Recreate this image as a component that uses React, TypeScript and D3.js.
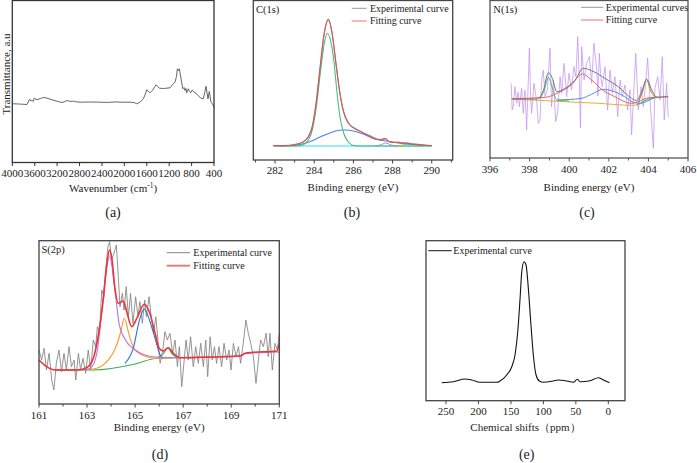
import React from 'react';
import * as d3 from 'd3';

type Pt = [number, number];

// ---------- (a) FTIR ----------
const ftirTicks = [4000, 3600, 3200, 2800, 2400, 2000, 1600, 1200, 800, 400];
const ftirSpectrum: Pt[] = [
  [4000, 59], [3977, 58.7], [3850, 58.4], [3738, 58], [3692, 63.3], [3670, 61.5], [3649, 62], [3625, 61.2], [3608, 64.3],
  [3560, 62.7], [3500, 64], [3442, 65], [3380, 64.4], [3323, 63.3], [3200, 61.2], [3114, 60], [3060, 61], [3025, 62],
  [2960, 61], [2908, 61.3], [2850, 60.6], [2788, 60.3], [2600, 60.5], [2432, 60.3], [2300, 60.1], [2150, 60.6],
  [2075, 60.3], [1897, 60.3], [1820, 59.8], [1778, 58.7], [1720, 60.5], [1660, 63.7], [1630, 68], [1600, 72.7],
  [1541, 69.7], [1500, 72], [1434, 77.7], [1375, 74.3], [1300, 74], [1184, 74.7], [1140, 78], [1095, 80.3],
  [1070, 86], [1054, 93.7], [1035, 92], [1019, 93.7], [988, 83.7], [958, 73.7], [935, 75], [917, 72], [900, 74],
  [887, 69.7], [858, 73.7], [835, 71], [815, 69.7], [790, 72.5], [769, 71], [720, 69], [680, 67], [640, 64.5],
  [591, 63.7], [565, 70], [543, 76.3], [525, 70], [507, 63.7], [484, 71], [470, 66], [454, 60.3], [430, 59], [413, 57], [400, 55],
];

// ---------- (b) C(1s) ----------
const c1sTicks = [282, 284, 286, 288, 290];
const c1sMinor = [281, 283, 285, 287, 289, 291];
const c1sExperimental: Pt[] = [
  [281.9, 14.5], [282.5, 14.2], [283.0, 15.5], [283.4, 17.8], [283.7, 23.5], [283.9, 33.5], [284.1, 57.5], [284.3, 92.5],
  [284.5, 125.5], [284.72, 141], [284.9, 128.5], [285.1, 98.5], [285.3, 68.5], [285.5, 48.5], [285.75, 37], [286.0, 32.5],
  [286.3, 29.3], [286.7, 25.5], [287.0, 22.8], [287.2, 21], [287.4, 20.5], [287.55, 21.5], [287.65, 21.3], [287.8, 18.8],
  [288.0, 17.6], [288.3, 17.8], [288.5, 16.9], [288.7, 17.2], [289.0, 16], [289.2, 15.8], [289.6, 15.0], [290, 14.5],
];
const c1sFitting: Pt[] = [
  [281.9, 14.3], [282.5, 14.5], [283.0, 15.2], [283.4, 17.5], [283.7, 23], [283.9, 33], [284.1, 57], [284.3, 92],
  [284.5, 125], [284.72, 140], [284.9, 128], [285.1, 98], [285.3, 68], [285.5, 48], [285.75, 36.5], [286.0, 32],
  [286.3, 29], [286.7, 25], [287.2, 20.5], [287.5, 20.2], [287.65, 21], [287.8, 18.5], [288.2, 17.3], [288.7, 16.7],
  [289.2, 15.5], [290, 14.3],
];
const c1sPeakCC: Pt[] = [
  [281.9, 14], [283.0, 14], [283.4, 15], [283.7, 20], [283.9, 30], [284.1, 52], [284.3, 85], [284.5, 115], [284.67, 126.7],
  [284.85, 118], [285.0, 100], [285.15, 70], [285.3, 45], [285.5, 27], [285.75, 18], [286.0, 14.5], [286.5, 14], [290, 14],
];
const c1sPeakCO: Pt[] = [
  [282, 14.3], [282.8, 14.5], [283.3, 15.5], [283.8, 18.5], [284.3, 23], [284.8, 27], [285.3, 29.8], [285.6, 30],
  [286.0, 29], [286.5, 26], [287.0, 21.5], [287.5, 19.5], [288.0, 18], [288.5, 16.5], [289.0, 15.5], [290, 14.3],
];
const c1sPeakCOO: Pt[] = [[287.1, 14], [287.4, 15.2], [287.65, 17], [287.9, 15.2], [288.2, 14]];
const c1sPeakCarb: Pt[] = [[288.2, 14], [288.5, 15], [288.8, 16], [289.1, 15], [289.5, 14]];
const c1sBaseline: Pt[] = [[282, 14], [290, 14]];

// ---------- (c) N(1s) ----------
const n1sTicks = [396, 398, 400, 402, 404, 406];
const n1sMinor = [397, 399, 401, 403, 405];
const n1sRaw: Pt[] = [
  [397.07, 74.7], [397.12, 48], [397.18, 52], [397.26, 71.3], [397.35, 54.7], [397.42, 66], [397.48, 51.3], [397.6, 69.7], [397.68, 44.7],
  [397.77, 68], [397.85, 28], [397.99, 109.7], [398.05, 62], [398.1, 44.7], [398.22, 74.7], [398.36, 56.3], [398.44, 34.7], [398.53, 38],
  [398.61, 78], [398.69, 88], [398.78, 61.3], [398.9, 68], [399.03, 109.7], [399.11, 51.3], [399.2, 78], [399.32, 36.3],
  [399.42, 46.3], [399.54, 81.3], [399.62, 64.7], [399.74, 94.7], [399.87, 61.3], [399.99, 84.7], [400.12, 68],
  [400.24, 91.3], [400.34, 81.3], [400.43, 121.3], [400.51, 78], [400.57, 30], [400.63, 111.3], [400.75, 78],
  [400.88, 94.7], [401.02, 101.3], [401.13, 74.7], [401.25, 114.7], [401.39, 88], [401.45, 62], [401.52, 104.7],
  [401.6, 80], [401.67, 71.3], [401.81, 91.3], [401.94, 48], [402.06, 88], [402.18, 64.7], [402.31, 81.3], [402.45, 41.3],
  [402.57, 78], [402.68, 61.3], [402.82, 73], [402.95, 48], [403.07, 68], [403.15, 23], [403.24, 58], [403.36, 104.7],
  [403.49, 48], [403.63, 71.3], [403.74, 51.3], [403.86, 74.7], [403.96, 100], [404.08, 58], [404.25, 9.7],
  [404.33, 69.7], [404.47, 81.3], [404.59, 58], [404.7, 101.3], [404.8, 38], [404.92, 74.7], [405.0, 41.3],
];
const n1sEnvelope: Pt[] = [
  [397.1, 59], [398.36, 59], [398.7, 68], [398.95, 85.3], [399.15, 79.7], [399.37, 66.3], [399.8, 69.7], [400.3, 78],
  [400.71, 89.7], [401.13, 87.3], [401.8, 79.7], [402.48, 71.3], [403.15, 59.7], [403.4, 57.3], [403.66, 66.3],
  [403.91, 78.7], [404.17, 68], [404.42, 60.7], [405.0, 61.3],
];
const n1sFitting: Pt[] = [
  [397.1, 59.3], [398.8, 60.7], [399.45, 65.3], [400.1, 73], [400.65, 84], [401.13, 78], [401.64, 68.7], [402.3, 61.3],
  [403.15, 54.7], [403.5, 56.3], [403.9, 59.7], [404.33, 60.7], [405.0, 61.3],
];
const n1sPeakB: Pt[] = [
  [399.37, 58], [400.0, 58.5], [400.63, 59.7], [401.13, 63.7], [401.72, 68.7], [402.3, 66.3], [402.8, 61.3],
  [403.3, 55.3], [403.6, 54.7], [404.17, 59], [404.42, 60.7],
];
const n1sPeakA: Pt[] = [[398.5, 59], [398.75, 68], [398.95, 80.7], [399.15, 70], [399.37, 58], [400.0, 57]];
const n1sPeakA2: Pt[] = [[403.4, 53], [403.8, 57], [404.2, 60], [404.42, 61]];
const n1sPeakC: Pt[] = [[403.5, 56], [403.7, 66], [403.9, 78.7], [404.1, 68], [404.3, 61.5]];
const n1sBackground: Pt[] = [
  [397.1, 59], [399.8, 56.3], [401.47, 54.7], [403.15, 52.7], [403.5, 53], [403.7, 56], [404.0, 60], [404.42, 61],
];

// ---------- (d) S(2p) ----------
const s2pTicks = [161, 163, 165, 167, 169, 171];
const s2pMinor = [162, 164, 166, 168, 170];
const s2pExperimental: Pt[] = [
  [161.0, 54], [161.11, 44], [161.21, 55.7], [161.31, 34], [161.42, 50.7], [161.53, 24], [161.62, 14], [161.72, 40.7],
  [161.83, 54], [161.94, 32.3], [162.04, 50.7], [162.14, 34], [162.25, 57.3], [162.35, 37.3], [162.46, 44], [162.53, 24],
  [162.64, 50.7], [162.73, 34], [162.83, 45.7], [162.94, 30.7], [163.05, 54], [163.15, 34], [163.26, 64], [163.36, 57.3],
  [163.43, 77.3], [163.52, 70.7], [163.61, 114], [163.70, 107.3], [163.77, 134], [163.87, 157.3], [163.94, 162.3],
  [164.02, 144], [164.12, 150.7], [164.22, 159], [164.30, 127.3], [164.37, 97.3], [164.47, 110.7], [164.54, 94],
  [164.63, 117.3], [164.72, 87.3], [164.81, 110.7], [164.91, 80.7], [165.02, 107.3], [165.12, 87.3], [165.20, 102.3],
  [165.30, 80.7], [165.40, 104], [165.47, 87.3], [165.58, 107.3], [165.67, 87.3], [165.77, 70.7], [165.86, 87.3],
  [165.95, 64], [166.04, 40.7], [166.15, 54], [166.24, 72.3], [166.34, 64], [166.45, 70.7], [166.56, 50.7], [166.66, 64],
  [166.76, 37.3], [166.84, 57.3], [166.94, 17.3], [167.03, 40.7], [167.12, 64], [167.21, 44], [167.31, 67.3],
  [167.42, 37.3], [167.52, 57.3], [167.63, 40.7], [167.73, 60.7], [167.84, 37.3], [167.94, 64], [168.02, 27.3],
  [168.12, 67.3], [168.21, 44], [168.30, 57.3], [168.39, 40.7], [168.49, 57.3], [168.60, 37.3], [168.70, 60.7],
  [168.81, 44], [168.91, 54], [168.99, 34], [169.09, 60.7], [169.20, 47.3], [169.30, 57.3], [169.39, 40.7],
  [169.50, 60.7], [169.61, 84], [169.71, 70.7], [169.81, 60.7], [169.92, 47.3], [170.03, 20.7], [170.13, 44],
  [170.22, 64], [170.34, 57.3], [170.45, 70.7], [170.54, 47.3], [170.61, 70.7], [170.71, 34], [170.82, 60.7],
  [170.92, 54], [171.0, 70.7],
];
const s2pFitting: Pt[] = [
  [161, 44], [161.32, 37.3], [161.67, 34], [162.57, 34], [162.98, 36.3], [163.26, 45.7], [163.47, 69], [163.68, 105.7],
  [163.82, 139], [163.93, 154], [164.03, 145.7], [164.16, 115.7], [164.3, 100.7], [164.51, 103], [164.65, 92.3],
  [164.86, 77.3], [165.07, 85.7], [165.38, 99.7], [165.59, 92.3], [165.83, 70.7], [166.0, 55.7], [166.17, 53],
  [166.38, 56.3], [166.59, 50.7], [166.87, 46.3], [167.7, 46.7], [169.37, 48.3], [169.6, 51], [169.92, 51.7],
  [170.9, 53], [171, 60.7],
];
const s2pPeak1: Pt[] = [
  [161.67, 34], [163.0, 34.5], [163.2, 37.3], [163.43, 54], [163.56, 80.7], [163.7, 114], [163.94, 147.3], [164.16, 114],
  [164.33, 80.7], [164.6, 64], [165.0, 54], [165.4, 49], [165.86, 47], [166.87, 46.3], [167.7, 46.5], [169.37, 47.5],
  [169.6, 50.5], [169.9, 51], [171, 52],
];
const s2pPeak2: Pt[] = [
  [161.67, 34], [163.26, 35], [163.82, 42.3], [164.23, 59], [164.4, 72], [164.55, 85.7], [164.7, 74], [164.79, 65.7],
  [165.07, 52.3], [165.48, 47.3], [165.9, 45.7], [166.5, 46],
];
const s2pPeak3: Pt[] = [
  [164.58, 40.7], [164.92, 55.7], [165.2, 85.7], [165.38, 95], [165.62, 82.3], [165.83, 65.7], [166.04, 49], [166.17, 45.7],
];
const s2pPeak4: Pt[] = [[165.95, 46.5], [166.17, 50], [166.35, 56.3], [166.55, 50], [166.8, 46.3]];
const s2pBackground: Pt[] = [[161.67, 34], [163.26, 34], [165.0, 40], [165.9, 45.7], [166.87, 46.3]];

// ---------- (e) 13C NMR ----------
const nmrTicks = [250, 200, 150, 100, 50, 0];
const nmrSpectrum: Pt[] = [
  [256.6, 18], [238.7, 19], [220.7, 21.7], [210.4, 20.7], [197.6, 18.4], [171.9, 18.4], [166.8, 19.7], [156.5, 25.7],
  [148.7, 34], [143.7, 45.7], [139.5, 69], [135.9, 102.4], [133.3, 129], [129.8, 139], [126.7, 135.7], [123.2, 112.4],
  [119.5, 79], [115.5, 45.7], [111.3, 25.7], [106.3, 19.7], [100.1, 18.4], [84.6, 19.7], [76.9, 20.7], [64.0, 19.7],
  [53.8, 18.4], [47.7, 21.4], [43.5, 19], [28.1, 20], [15.3, 23], [7.6, 20.7], [-1.8, 18],
];

const FONT = 'Liberation Serif, Times New Roman, DejaVu Serif, serif';

type Series = { data: Pt[]; color: string; width: number; smooth?: boolean; opacity?: number };
type Box = { left: number; right: number; top: number; bottom: number };
type LegendItem = { label: string; color: string; width: number };

function Panel(props: {
  box: Box; xDomain: [number, number]; ticks: number[]; minor?: number[]; series: Series[];
  frame: string; xTitle: React.ReactNode; tag: string; tagX: number; tagY: number;
  tickY: number; titleY: number; inner?: { text: string; x: number; y: number };
  legend?: { x1: number; x2: number; tx: number; ys: number[]; items: LegendItem[] };
}) {
  const { box } = props;
  const x = d3.scaleLinear().domain(props.xDomain).range([box.left, box.right]);
  const y = d3.scaleLinear().domain([0, box.bottom - box.top]).range([box.bottom, box.top]);
  const cx = (box.left + box.right) / 2;
  return (
    <g>
      {props.series.map((s, i) => {
        const line = d3.line<Pt>().x(d => x(d[0])).y(d => y(d[1]))
          .curve(s.smooth ? d3.curveMonotoneX : d3.curveLinear);
        const sorted = [...s.data].sort((a, b) => x(a[0]) - x(b[0]));
        return <path key={i} d={line(sorted) || ''} fill="none" stroke={s.color} strokeWidth={s.width}
          strokeOpacity={s.opacity ?? 1} strokeLinejoin="round" />;
      })}
      <rect x={box.left} y={box.top} width={box.right - box.left} height={box.bottom - box.top}
        fill="none" stroke={props.frame} strokeWidth={1.3} />
      {props.ticks.map(t => (
        <g key={'t' + t}>
          <line x1={x(t)} x2={x(t)} y1={box.bottom} y2={box.bottom + 3.5} stroke={props.frame} strokeWidth={1} />
          <text x={x(t)} y={props.tickY} textAnchor="middle" fontSize={11} style={{ fontFamily: FONT }} fill="#222">{t}</text>
        </g>
      ))}
      {(props.minor || []).map(t => (
        <line key={'m' + t} x1={x(t)} x2={x(t)} y1={box.bottom} y2={box.bottom + 2.5} stroke={props.frame} strokeWidth={1} />
      ))}
      <text x={cx} y={props.titleY} textAnchor="middle" fontSize={11} style={{ fontFamily: FONT }} fill="#222">{props.xTitle}</text>
      <text x={props.tagX} y={props.tagY} textAnchor="middle" fontSize={14} style={{ fontFamily: FONT }} fill="#222">{props.tag}</text>
      {props.inner && (
        <text x={props.inner.x} y={props.inner.y} fontSize={10.5} style={{ fontFamily: FONT }} fill="#222">{props.inner.text}</text>
      )}
      {props.legend && props.legend.items.map((it, i) => (
        <g key={'l' + i}>
          <line x1={props.legend!.x1} x2={props.legend!.x2} y1={props.legend!.ys[i]} y2={props.legend!.ys[i]}
            stroke={it.color} strokeWidth={it.width} />
          <text x={props.legend!.tx} y={props.legend!.ys[i] + 3.3} fontSize={10} style={{ fontFamily: FONT }} fill="#222">{it.label}</text>
        </g>
      ))}
    </g>
  );
}

export default function App() {
  return (
    <svg width={697} height={463} style={{ position: 'absolute', left: 0, top: 0, background: '#fff', fontFamily: FONT }}>
      <rect width={697} height={463} fill="#fff" />
      {/* (a) */}
      <Panel box={{ left: 12.3, right: 214, top: 0.5, bottom: 162.5 }} xDomain={[4000, 400]} ticks={ftirTicks}
        series={[{ data: ftirSpectrum, color: '#555', width: 0.9 }]} frame="#333"
        xTitle={<>Wavenumber (cm<tspan dy={-4} fontSize={7.5}>-1</tspan><tspan dy={4}>)</tspan></>}
        tag="(a)" tagX={113} tagY={217} tickY={177} titleY={191.5} />
      <text transform="translate(9.5,74) rotate(-90)" textAnchor="middle" fontSize={11} style={{ fontFamily: FONT }} fill="#222">
        Transmittance, a.u
      </text>
      {/* (b) */}
      <Panel box={{ left: 253.3, right: 452.7, top: 0.5, bottom: 160 }} xDomain={[280.89, 291.07]} ticks={c1sTicks}
        minor={c1sMinor} frame="#444"
        series={[
          { data: c1sBaseline, color: '#2fe0f0', width: 1.1 },
          { data: c1sPeakCarb, color: '#f0b030', width: 0.9, smooth: true },
          { data: c1sPeakCOO, color: '#d060d0', width: 0.9, smooth: true },
          { data: c1sPeakCO, color: '#4a86e8', width: 1.1, smooth: true },
          { data: c1sPeakCC, color: '#45c080', width: 1.1, smooth: true },
          { data: c1sExperimental, color: '#888', width: 1.2, smooth: true },
          { data: c1sFitting, color: '#ec4a4a', width: 1.0, smooth: true, opacity: 0.9 },
        ]}
        xTitle="Binding energy (eV)" tag="(b)" tagX={352} tagY={217} tickY={174.4} titleY={191}
        inner={{ text: 'C(1s)', x: 256, y: 12.5 }}
        legend={{ x1: 351.7, x2: 366.7, tx: 370, ys: [8.3, 21], items: [
          { label: 'Experimental curve', color: '#999', width: 1 },
          { label: 'Fitting curve', color: '#f07070', width: 1 },
        ] }} />
      {/* (c) */}
      <Panel box={{ left: 490, right: 688, top: 0.5, bottom: 158 }} xDomain={[396, 406]} ticks={n1sTicks}
        minor={n1sMinor} frame="#555"
        series={[
          { data: n1sRaw, color: '#c495f0', width: 0.9, opacity: 0.85 },
          { data: n1sBackground, color: '#e8b030', width: 1.0, smooth: true },
          { data: n1sPeakA, color: '#40c070', width: 1.0, smooth: true },
          { data: n1sPeakA2, color: '#40c0a0', width: 1.0, smooth: true },
          { data: n1sPeakB, color: '#4a90e8', width: 1.0, smooth: true },
          { data: n1sPeakC, color: '#a89020', width: 1.0, smooth: true },
          { data: n1sFitting, color: '#f06060', width: 1.0, smooth: true },
          { data: n1sEnvelope, color: '#777', width: 1.0, smooth: true },
        ]}
        xTitle="Binding energy (eV)" tag="(c)" tagX={587} tagY={217} tickY={172.7} titleY={191}
        inner={{ text: 'N(1s)', x: 493.3, y: 12.5 }}
        legend={{ x1: 581, x2: 603.3, tx: 605.7, ys: [7.3, 20], items: [
          { label: 'Experimental curves', color: '#999', width: 1 },
          { label: 'Fitting curve', color: '#f07070', width: 1 },
        ] }} />
      {/* (d) */}
      <Panel box={{ left: 39, right: 279.3, top: 240.7, bottom: 404 }} xDomain={[161, 171]} ticks={s2pTicks}
        minor={s2pMinor} frame="#444"
        series={[
          { data: s2pExperimental, color: '#888', width: 0.9 },
          { data: s2pBackground, color: '#3cb050', width: 1.1, smooth: true },
          { data: s2pPeak4, color: '#3cb050', width: 1.1, smooth: true },
          { data: s2pPeak2, color: '#ff9a20', width: 1.1, smooth: true },
          { data: s2pPeak3, color: '#2a70e0', width: 1.1, smooth: true },
          { data: s2pPeak1, color: '#c070e8', width: 1.1, smooth: true },
          { data: s2pFitting, color: '#ee3535', width: 1.6, smooth: true },
        ]}
        xTitle="Binding energy (eV)" tag="(d)" tagX={160} tagY={459} tickY={418.7} titleY={430.6}
        inner={{ text: 'S(2p)', x: 41.5, y: 252.7 }}
        legend={{ x1: 166.7, x2: 190, tx: 193.3, ys: [252.7, 265.7], items: [
          { label: 'Experimental curve', color: '#888', width: 1 },
          { label: 'Fitting curve', color: '#f07a7a', width: 2 },
        ] }} />
      {/* (e) */}
      <Panel box={{ left: 426, right: 625, top: 240.7, bottom: 400.7 }} xDomain={[280.8, -25.7]} ticks={nmrTicks}
        frame="#444"
        series={[{ data: nmrSpectrum, color: '#111', width: 1.1, smooth: true }]}
        xTitle="Chemical shifts（ppm）" tag="(e)" tagX={526.7} tagY={459} tickY={415.4} titleY={430.6}
        legend={{ x1: 428.3, x2: 451.7, tx: 453.3, ys: [250.7], items: [
          { label: 'Experimental curve', color: '#111', width: 1 },
        ] }} />
    </svg>
  );
}
